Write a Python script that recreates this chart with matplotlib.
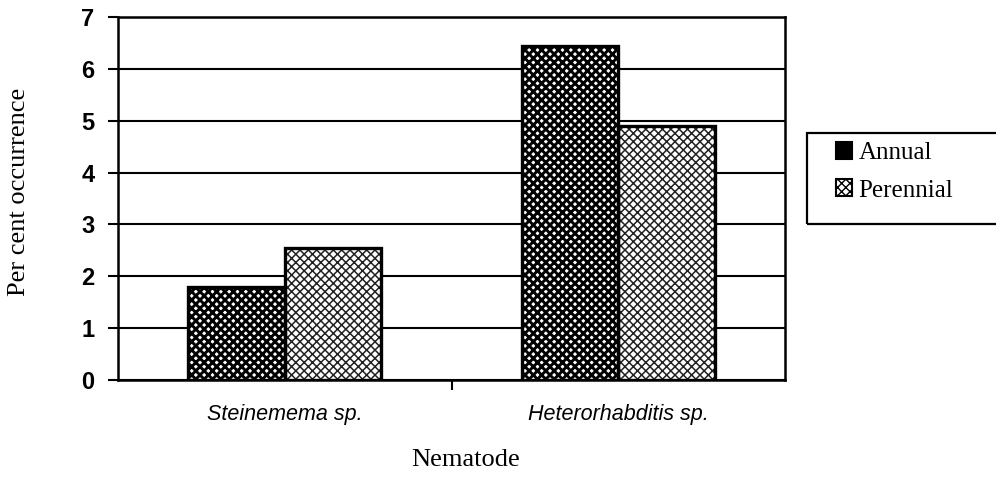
import numpy as np
import matplotlib.pyplot as plt
from matplotlib.patches import Patch, Rectangle

# values
nematodes = ['Steinemema sp.', 'Heterorhabditis sp.']
annual = [1.8, 6.45]
perennial = [2.55, 4.9]
series_names = ['Annual', 'Perennial']
y_ticks = [0, 1, 2, 3, 4, 5, 6, 7]


def hatch_lw(artists, lw):
    for a in artists:
        if hasattr(a, 'set_hatch_linewidth'):
            a.set_hatch_linewidth(lw)


fig = plt.figure(figsize=(9.96, 4.78), dpi=100)
ax = fig.add_axes([118 / 996, 1 - 380 / 478, 667 / 996, 363 / 478])

x = np.arange(len(nematodes))
w = 0.29

# annual: dark checker, perennial: light cross hatch
plt.rcParams['hatch.linewidth'] = 2.1
b1 = ax.bar(x - w / 2, annual, w, color='white', edgecolor='black', hatch='xxxx',
            linewidth=0, zorder=3)
hatch_lw(b1, 2.1)
ax.bar(x - w / 2, annual, w, fill=False, edgecolor='black', linewidth=2.4, zorder=4)
plt.rcParams['hatch.linewidth'] = 1.1
b2 = ax.bar(x + w / 2, perennial, w, color='white', edgecolor='#222222', hatch='xxxx',
            linewidth=0, zorder=3)
hatch_lw(b2, 1.1)
ax.bar(x + w / 2, perennial, w, fill=False, edgecolor='black', linewidth=2.4, zorder=4)

ax.set_xlim(-0.5, 1.5)
ax.set_ylim(0, 7)
ax.set_yticks(y_ticks)
ax.set_yticklabels([str(v) for v in y_ticks], family='Liberation Sans',
                   fontweight='bold', fontsize=17)
ax.yaxis.grid(True, color='black', linewidth=1.5, zorder=0)
ax.set_axisbelow(True)

ax.set_xticks(x)
ax.set_xticklabels(nematodes, family='Liberation Sans', style='italic', fontsize=15.5)
ax.set_xticks([0.5], minor=True)
ax.tick_params(axis='x', which='major', length=0, pad=17)
ax.tick_params(axis='x', which='minor', length=7, width=1.5, direction='out')
ax.tick_params(axis='y', length=7, width=1.5, direction='out', pad=10)

for s in ax.spines.values():
    s.set_linewidth(1.8)
    s.set_color('black')

fig.text(19 / 996, 1 - 192 / 478, 'Per cent occurrence', rotation=90,
         ha='center', va='center', family='Liberation Serif', fontsize=19)
fig.text(466 / 996, 1 - 460 / 478, 'Nematode', ha='center', va='center',
         family='Liberation Serif', fontsize=19)

# legend box runs off the right edge like in the scan
fig.patches.append(Rectangle((807 / 996, 1 - 224 / 478), 200 / 996, 91 / 478,
                             transform=fig.transFigure, fill=False,
                             edgecolor='black', linewidth=1.6))
plt.rcParams['hatch.linewidth'] = 1.0
handles = [
    Patch(facecolor='black', edgecolor='black', linewidth=1.5),
    Patch(facecolor='white', edgecolor='black', hatch='xxxx', linewidth=1.5),
]
hatch_lw(handles, 1.0)
leg = fig.legend(handles, series_names, loc='center left',
                 bbox_to_anchor=(836 / 996, 1 - 172 / 478),
                 prop={'family': 'Liberation Serif', 'size': 18},
                 frameon=False, handlelength=0.65, handleheight=0.65,
                 handletextpad=0.25, labelspacing=0.6, borderpad=0,
                 borderaxespad=0)

fig.savefig('out.png', dpi=100)
